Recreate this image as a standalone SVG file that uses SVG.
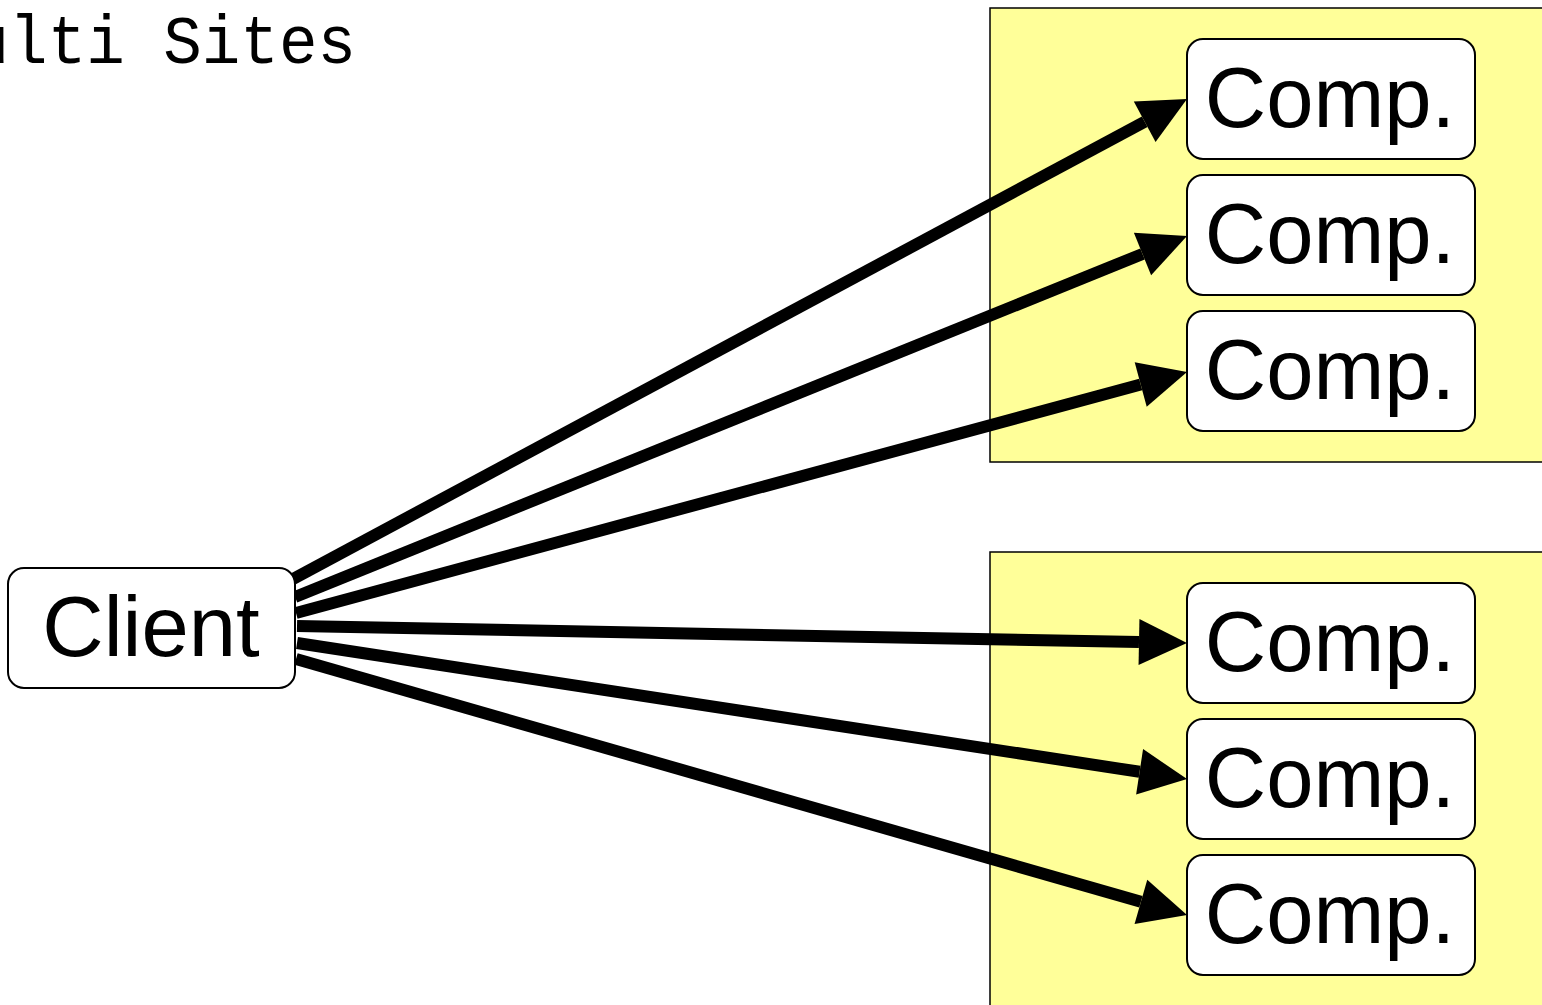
<svg xmlns="http://www.w3.org/2000/svg" width="1542" height="1005" viewBox="0 0 1542 1005">
<style>
.site{fill:#ffff99;stroke:#000;stroke-width:1.5}
.box{fill:#fff;stroke:#000;stroke-width:2}
.lbl{font-family:"Liberation Sans",Arial,sans-serif;font-size:85px;fill:#000;text-anchor:middle}
.title{font-family:"Liberation Mono","Courier New",monospace;font-size:68px;fill:#000}
.conn line{stroke:#000;stroke-width:12;marker-end:url(#ah)}
</style>
<defs>
<marker id="ah" markerUnits="userSpaceOnUse" markerWidth="48" markerHeight="46" refX="0" refY="23" orient="auto" overflow="visible">
<path d="M0,0 L48,23 L0,46 Z" fill="#000"/>
</marker>
</defs>
<rect width="1542" height="1005" fill="#fff"/>
<text class="title" x="-68" y="63" textLength="424" lengthAdjust="spacingAndGlyphs">Multi Sites</text>
<g id="site1"><rect class="site" x="990" y="8" width="570" height="454"/></g>
<g id="site2"><rect class="site" x="990" y="552" width="570" height="470"/></g>
<g id="connectors" class="conn">
<line x1="293" y1="579" x2="1144.7" y2="121.7"/>
<line x1="295" y1="597" x2="1142.5" y2="254"/>
<line x1="296" y1="613" x2="1140.7" y2="384.5"/>
<line x1="297" y1="626" x2="1139" y2="642.1"/>
<line x1="297" y1="643" x2="1139.6" y2="771.8"/>
<line x1="296" y1="659" x2="1140.9" y2="901.8"/>
</g>
<g id="client"><rect class="box" x="8" y="568" width="287" height="120" rx="16"/><text class="lbl" x="151" y="656">Client</text></g>
<g id="comp1"><rect class="box" x="1187" y="39" width="288" height="120" rx="16"/><text class="lbl" x="1330" y="127">Comp.</text></g>
<g id="comp2"><rect class="box" x="1187" y="175" width="288" height="120" rx="16"/><text class="lbl" x="1330" y="263">Comp.</text></g>
<g id="comp3"><rect class="box" x="1187" y="311" width="288" height="120" rx="16"/><text class="lbl" x="1330" y="399">Comp.</text></g>
<g id="comp4"><rect class="box" x="1187" y="583" width="288" height="120" rx="16"/><text class="lbl" x="1330" y="671">Comp.</text></g>
<g id="comp5"><rect class="box" x="1187" y="719" width="288" height="120" rx="16"/><text class="lbl" x="1330" y="807">Comp.</text></g>
<g id="comp6"><rect class="box" x="1187" y="855" width="288" height="120" rx="16"/><text class="lbl" x="1330" y="943">Comp.</text></g>
</svg>
